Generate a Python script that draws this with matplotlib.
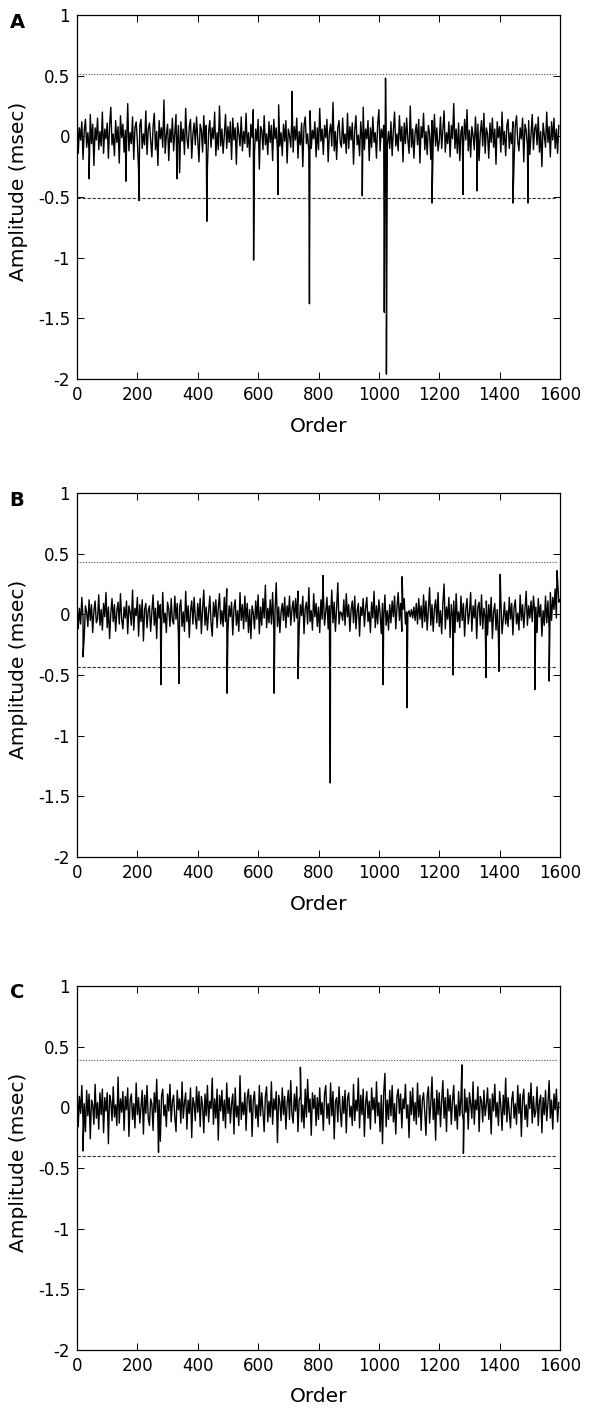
import numpy as np
import matplotlib.pyplot as plt

plt.rcParams['font.family'] = 'DejaVu Sans'
plt.rcParams['axes.unicode_minus'] = False

# ---- datos (amplitud en centesimas de msec) ----
paso = 4  # separacion en "Order" entre valores del ruido

ruido_a = [
    21, -14, 7, -3, 12, -19, 5, 14, -9, 3, -12, 18, -6, 10, -24, 7, -3, 15, -11, 4,
    -8, 20, -14, 6, -2, 11, -18, 9, 24, -7, 2, -16, 13, -5, 8, -22, 17, -1, 10, -13,
    5, -9, 27, -12, 3, -6, 16, -19, 7, 12, -4, -28, 9, 14, -10, 2, -7, 21, -15, 6,
    11, -3, -17, 8, 19, -11, 4, -24, 13, -2, 7, -9, 30, -14, 1, 10, -20, 6, -5, 15,
    -12, 3, 18, -8, 9, -30, 12, -4, 6, -15, 23, -1, -10, 8, 14, -18, 2, 11, -7, 16,
    -3, -21, 10, 5, -13, 17, -6, 9, -26, 4, 13, -9, 7, -2, 20, -16, 3, -11, 25, -8,
    6, -14, 1, 18, -10, 8, -5, 12, -19, 15, -3, 7, -23, 11, 2, -8, 16, -12, 4, -6,
    19, -9, 3, -17, 10, -1, 22, -13, 6, -4, 14, -27, 8, 5, -11, 17, -7, 2, -15, 12,
    -5, 9, -20, 14, -2, 7, -12, 26, -8, 3, -16, 10, -4, 13, -22, 6, 1, -9, 18, -13,
    8, -3, 15, -18, 4, -7, 11, -25, 9, 16, -6, 2, -13, 21, -10, 5, -2, 12, -17, 7,
    -11, 23, -4, 6, -15, 9, -1, 14, -21, 3, 10, -8, 28, -12, 4, -19, 7, 13, -5, -9,
    15, -6, 2, -14, 19, -10, 8, -3, 11, -23, 5, 17, -7, 1, -16, 12, -4, 24, -11, 6,
    -2, 13, -20, 7, -9, 16, -5, 3, -18, 10, 22, -12, 6, -1, 9, -26, 14, -7, 4, -10,
    12, -16, 5, 20, -8, 2, -12, 17, -4, 8, -21, 11, -6, 15, -3, -14, 25, -9, 6, -18,
    3, 10, -7, 14, -22, 8, -1, 19, -11, 4, -15, 9, 2, -19, 13, -5, 18, -8, 7, -12,
    -4, 16, -10, 5, 21, -13, 3, -6, 12, -17, 9, -2, 27, -10, 6, -14, 11, -20, 4, 8,
    -9, 14, -3, 22, -12, 5, -17, 8, 1, -11, 16, -6, 10, -20, 3, 13, -8, 19, -14, 7,
    2, -18, 11, -5, 15, -9, 6, -23, 12, -1, 8, -13, 20, -7, 4, -16, 9, 14, -10, 3,
    -6, 12, -19, 9, 17, -4, -12, 7, -2, 15, -21, 10, 5, -8, 13, -15, 2, 18, -11, 6,
    10, -7, 16, -13, 4, -25, 11, 1, -9, 20, -5, 8, -17, 12, -3, 15, -10, 6, -14, 9,
]
picos_a_orden = [40, 162, 205, 331, 430, 585, 666, 712, 770, 945, 1018, 1022, 1025, 1176, 1279, 1325, 1444, 1494]
picos_a_amp = [-0.35, -0.37, -0.53, -0.35, -0.70, -1.02, -0.48, 0.37, -1.38, -0.49, -1.45, 0.48, -1.96, -0.55, -0.48, -0.45, -0.55, -0.55]

ruido_b = [
    10, -12, 5, -8, 14, -3, -18, 7, 2, -10, 12, -5, 8, -15, 3, 11, -7, -4, 16, -9,
    4, -13, 9, -2, 18, -11, 6, -20, 1, 13, -6, 8, -14, 3, 10, -8, 17, -4, -12, 6,
    -3, 11, -16, 7, 2, -9, 20, -13, 5, -1, 14, -18, 8, -6, 12, -22, 4, 9, -11, 3,
    7, -14, 2, 16, -9, 5, -20, 11, -3, 8, -12, 18, -7, 1, -15, 10, 4, -10, 13, -5,
    -8, 15, -4, 9, -17, 6, 12, -10, 2, -14, 19, -6, 7, -19, 3, 11, -8, 14, -3, -12,
    9, -5, 13, -16, 4, 20, -9, 6, -13, 2, 15, -7, -18, 10, -2, 12, -11, 5, 17, -8,
    3, -10, 14, -6, 21, -13, 7, -2, 10, -17, 5, 12, -9, 3, -14, 18, -5, 8, -12, 15,
    -6, 9, -15, 4, -20, 7, 1, -12, 11, -4, 16, -16, 6, -9, 13, -3, 24, -11, 5, -7,
    12, -8, 18, -13, 3, 26, -10, 6, -15, 2, 9, -5, 14, -11, 7, -2, 15, -9, 4, 11,
    -6, 13, -3, 19, -12, 8, -1, 15, -16, 5, 10, -8, 22, -6, 3, -13, 17, -2, 9, -10,
    6, -15, 12, -4, 18, -9, 3, 14, -12, 7, -3, 20, -7, 10, -14, 5, 26, -8, 2, 1,
    -5, 12, -9, 17, -2, 8, -14, 4, 11, -7, 15, -12, 3, 9, -18, 6, -1, 13, -10, 5,
    14, -6, 2, -15, 10, -3, 19, -11, 7, -8, 12, 1, -16, 9, -4, 16, -9, 3, -13, 8,
    -7, 11, -2, 15, -12, 6, 18, -5, 9, -14, 4, 13, -8, 2, 0, 3, -2, 4, -3, 6,
    -5, 9, -8, 13, -4, 7, -11, 16, -6, 11, -13, 4, 22, -9, 8, -14,
    5, 12, -7, 18, -10, 3, -16, 9, 25, -12, 6, -4, 14, -19, 8, -2, 11, -15, 17, -6,
    2, -11, 15, -5, 9, -18, 4, 13, -8, 1, 18, -14, 7, -3, 12, -20, 6, 10, -9, 16,
    -12, 5, -3, 11, -17, 8, -6, 14, -20, 2, 9, -13, 4, -19, 7, 12, -16, -4, 10, -8,
    3, -10, 14, -4, 9, -17, 6, 12, -8, 1, -13, 16, -5, 8, -11, 4, 19, -9, 7, -3,
    11, -6, 15, 2,
    6, -15, 13, -2, 8, -18, 3, -9, 15, -7, 11, -12, 18, -5, 14, 4, 21, -3, 28, 10,
]
picos_b_orden = [20, 278, 338, 497, 653, 732, 815, 839, 1014, 1077, 1093, 1246, 1355, 1398, 1402, 1517, 1564, 1590, 1599]
picos_b_amp = [-0.35, -0.58, -0.57, -0.65, -0.65, -0.53, 0.32, -1.39, -0.58, 0.31, -0.77, -0.50, -0.52, -0.47, 0.33, -0.62, -0.55, 0.36, 0.12]

ruido_c = [
    22, -16, 9, -5, 18, -12, 3, -20, 14, -7, 11, -26, 6, 2, -14, 19, -9, 4, -18, 12,
    -6, 15, -21, 8, -3, 12, -30, 10, 5, -11, 17, -8, 2, -15, 25, -13, 7, -4, 13, -19,
    9, -2, 16, -24, 6, 11, -10, 3, -17, 20, -6, 8, -13, 1, 14, -22, 10, -5, 18, -9,
    -15, 7, 3, -19, 12, -4, 23, -11, 6, -28, 9, 15, -7, 2, -16, 11, -3, 19, -12, 5,
    10, -8, -20, 14, -2, 7, -13, 21, -9, 4, 12, -18, 6, -5, 16, -25, 8, 3, -11, 17,
    -4, 13, -16, 9, 2, -21, 11, -7, 18, -12, 5, -1, 24, -14, 7, -9, 15, -27, 10, -3,
    14, -11, 6, -17, 20, -5, 8, -13, 3, 11, -22, 16, -8, 1, -15, 26, -10, 4, -6, 12,
    -19, 8, 15, -4, 10, -24, 6, 13, -9, 2, -16, 18, -7, 12, -3, -20, 9, 17, -12, 5,
    -8, 21, -14, 7, -2, 13, -29, 10, 4, -11, 16, -6, 9, -18, 3, 14, -10, 22, -5, -13,
    11, -3, 17, -20, 6, 9, -12, 2, -17, 15, -8, 23, -4, 7, -23, 12, -1, 10, -15, 8,
    -10, 16, -6, 4, -19, 11, 18, -9, 3, -14, 20, -7, 13, -26, 5, 8, -12, 17, -2, -16,
    9, -5, 14, -21, 7, 12, -8, 1, -15, 19, -11, 6, -3, 24, -17, 10, -6, 15, -24, 3,
    13, -9, 5, -18, 16, -2, 8, -13, 21, -7, 4, -20, 10, -30, 12, 28, -16, 6, -10, 14,
    -7, 18, -12, 3, -22, 9, 15, -5, 11, -17, 7, -1, 19, -9, 2, -25, 13, -6, 16, -11,
    4, -14, 20, -8, 10, -19, 6, 12, -4, -23, 9, 17, -13, 3, 25, -10, 7, -27, 14, -6,
    12, -16, 5, 22, -9, 8, -20, 15, -3, 10, -14, 6, 18, -11, 2, -18, 13, -7, 9, -4,
    -11, 15, -4, 8, -18, 12, 3, -9, 21, -14, 6, -2, 17, -20, 9, 5, -12, 14, -7, 2,
    16, -10, 7, -22, 11, -3, 19, -8, 4, -15, 13, 1, -19, 10, -6, 24, -12, 8, -4, -17,
    6, 13, -9, 3, -14, 18, -5, 11, -24, 7, 15, -10, 2, -16, 12, -1, 20, -13, 9, -8,
    -3, 17, -15, 5, 10, -21, 8, -6, 14, -11, 3, 22, -9, 6, -18, 11, -2, 15, -12, 4,
]
picos_c_orden = [20, 270, 740, 1275, 1280]
picos_c_amp = [-0.36, -0.37, 0.33, 0.35, -0.38]

umbral_sup = [0.51, 0.43, 0.39]
umbral_inf = [-0.51, -0.43, -0.40]
letras = ['A', 'B', 'C']
fin_umbral = 1590

yticks = [1, 0.5, 0, -0.5, -1, -1.5, -2]
ytick_labels = ['1', '0.5', '0', '-0.5', '-1', '-1.5', '-2']
xticks = [0, 200, 400, 600, 800, 1000, 1200, 1400, 1600]


def serie(ruido, picos_orden, picos_amp):
    x = np.arange(len(ruido)) * paso
    y = np.array(ruido) / 100.0
    x = np.concatenate([x, picos_orden])
    y = np.concatenate([y, picos_amp])
    idx = np.argsort(x, kind='stable')
    return x[idx], y[idx]


W, H = 589, 1409
fig = plt.figure(figsize=(W / 100, H / 100), dpi=100)

paneles = [
    (ruido_a, picos_a_orden, picos_a_amp),
    (ruido_b, picos_b_orden, picos_b_amp),
    (ruido_c, picos_c_orden, picos_c_amp),
]
tops = [15, 493, 986]
alto = 364
izq, ancho = 77, 483

for i, (ruido, po, pa) in enumerate(paneles):
    top = tops[i]
    ax = fig.add_axes([izq / W, 1 - (top + alto) / H, ancho / W, alto / H])
    x, y = serie(ruido, po, pa)
    ax.plot(x, y, color='black', linewidth=1.0)
    ax.plot([0, fin_umbral], [umbral_sup[i]] * 2, color='0.3', linestyle=(0, (1, 1.5)), linewidth=0.8)
    ax.plot([0, fin_umbral], [umbral_inf[i]] * 2, color='0.2', linestyle=(0, (3, 1.5)), linewidth=0.8)

    ax.set_xlim(0, 1600)
    ax.set_ylim(-2, 1)
    ax.set_xticks(xticks)
    ax.set_yticks(yticks)
    ax.set_yticklabels(ytick_labels)
    ax.tick_params(direction='in', top=True, right=True, length=5, width=0.7,
                   labelsize=12, pad=5)
    for s in ax.spines.values():
        s.set_linewidth(0.9)

    fig.text(19 / W, 1 - (top + 176) / H, 'Amplitude (msec)', rotation=90,
             ha='center', va='center', fontsize=14.5)
    fig.text((izq + ancho / 2) / W, 1 - (top + alto + 47) / H, 'Order',
             ha='center', va='center', fontsize=14.5)
    fig.text(17 / W, 1 - (top + 7) / H, letras[i], ha='center', va='center',
             fontsize=14, fontweight='bold')

fig.savefig('out.png', dpi=100)
